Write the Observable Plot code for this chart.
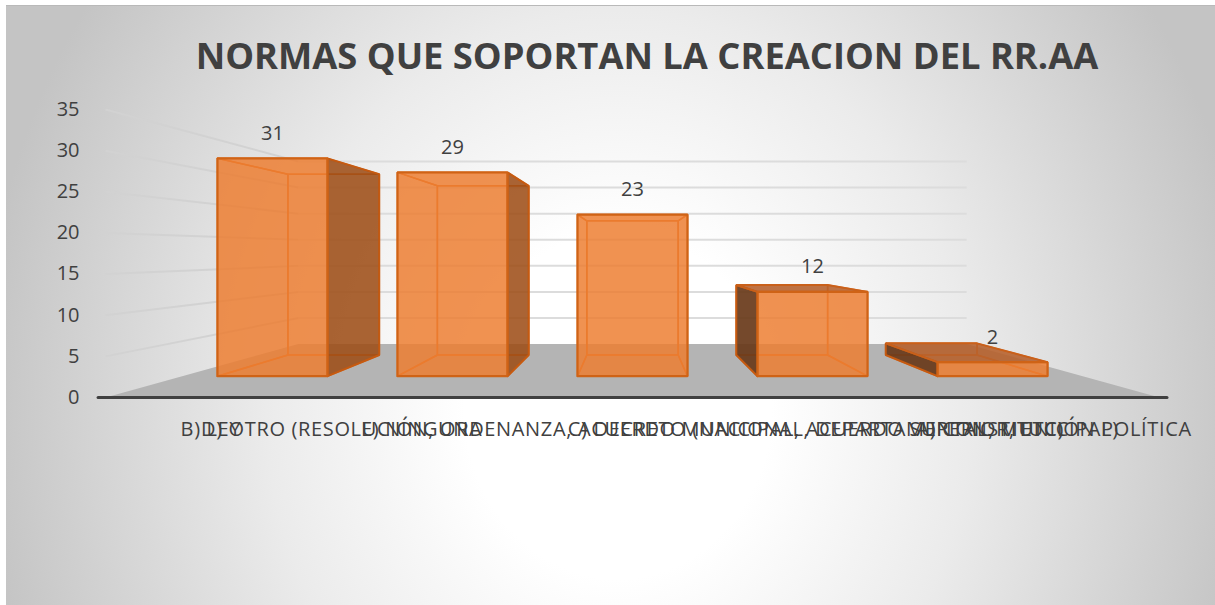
<!DOCTYPE html>
<html lang="es">
<head>
<meta charset="utf-8">
<script src="https://cdn.jsdelivr.net/npm/d3@7"></script>
<script src="https://cdn.jsdelivr.net/npm/@observablehq/plot@0.6"></script>
<style>
  html, body { margin: 0; padding: 0; background: #fff; }
  #page { position: relative; width: 1215px; height: 605px; overflow: hidden; background: #fff; }
  #bg { position: absolute; left: 6px; top: 5px; right: 0; bottom: 0;
        background: radial-gradient(ellipse 640px 720px at 612px 400px, #fff 0%, #fff 24%, #ebebeb 55%, #c4c4c4 100%);
        border-top: 1px solid #b9b9b9; }
  #title { position: absolute; left: 0; width: 1294px; top: 30px; margin: 0; text-align: center;
           font: 700 36.3px "Open Sans", sans-serif; color: #404040; line-height: 50px; }
  #chart { position: absolute; left: 0; top: 0; }
  #chart svg { display: block; }
  g[aria-label="x-axis tick label"] { letter-spacing: 0.65px; }
</style>
</head>
<body>
<div id="page">
  <div id="bg"></div>
  <div id="chart"></div>
  <h1 id="title">NORMAS QUE SOPORTAN LA CREACION DEL RR.AA</h1>
</div>
<script>
// Data
const categories = [
  "B) LEY",
  "E) NINGUNA",
  "D) OTRO (RESOLUCIÓN, ORDENANZA, ACUERDO MUNICIPAL, ACUERDO SUPERIOR, ETC)",
  "C) DECRETO (NACIONAL, DEPARTAMENTAL, MUNICIPAL)",
  "A) CONSTITUCIÓN POLÍTICA"
];
const values = [31, 29, 23, 12, 2];
const valueTicks = [0, 5, 10, 15, 20, 25, 30, 35];
const categoryTicks = categories.map((_, i) => i - 2);

// Perspective of the 3D box (depth planes, in scale units)
const V0 = 17.74, S_FRONT = 0.854, S_BACK = 0.709, S_WALL = 0.634, HALF = 0.3056, EDGE = 2.5;
const P = (u, v, s) => ({x: u * s, y: V0 + (v - V0) * s});

const faces = {inner: [], darkRight: [], darkLeft: [], darkTop: [], front: []};
values.forEach((v, i) => {
  const u0 = categoryTicks[i] - HALF, u1 = categoryTicks[i] + HALF;
  const f = (u, w) => P(u, w, S_FRONT), b = (u, w) => P(u, w, S_BACK);
  const add = (kind, id, pts) => faces[kind].push(...[...pts, pts[0]].map(p => ({...p, id: i + id})));
  add("inner", "back", [b(u0, 0), b(u1, 0), b(u1, v), b(u0, v)]);
  add("inner", "bottom", [f(u0, 0), f(u1, 0), b(u1, 0), b(u0, 0)]);
  const left = [f(u0, 0), f(u0, v), b(u0, v), b(u0, 0)];
  const right = [f(u1, 0), f(u1, v), b(u1, v), b(u1, 0)];
  const top = [f(u0, v), f(u1, v), b(u1, v), b(u0, v)];
  if (u0 > 0) add("darkLeft", "left", left); else add("inner", "left", left);
  if (u1 < 0) add("darkRight", "right", right); else add("inner", "right", right);
  if (v < V0) add("darkTop", "top", top); else add("inner", "top", top);
  add("front", "front", [f(u0, 0), f(u1, 0), f(u1, v), f(u0, v)]);
});
const faceMark = (kind, style) => Plot.line(faces[kind], {x: "x", y: "y", z: "id", strokeLinejoin: "miter", ...style});

const floor = [P(-EDGE, 0, 1), P(-EDGE, 0, S_WALL), P(EDGE, 0, S_WALL), P(EDGE, 0, 1), P(-EDGE, 0, 1)];
const gridTicks = valueTicks.slice(1);

const chart = Plot.plot({
  width: 1215, height: 605,
  marginLeft: 105, marginRight: 56, marginTop: 109, marginBottom: 208,
  x: {domain: [-EDGE, EDGE]},
  y: {domain: [0, 35]},
  style: {background: "transparent", fontFamily: "'Open Sans', sans-serif", overflow: "visible"},
  marks: [
    // back wall and left wall gridlines
    Plot.link(gridTicks, {
      x1: () => -EDGE * S_WALL, x2: () => EDGE * S_WALL,
      y1: d => P(0, d, S_WALL).y, y2: d => P(0, d, S_WALL).y,
      stroke: "#dcdcdc", strokeWidth: 2
    }),
    Plot.link(gridTicks, {
      x1: () => -EDGE, x2: () => -EDGE * S_WALL,
      y1: d => d, y2: d => P(0, d, S_WALL).y,
      stroke: "#d2d2d2", strokeWidth: 2
    }),
    Plot.line(floor, {x: "x", y: "y", fill: "#b4b4b4", stroke: "none"}),
    Plot.ruleY([0], {x1: -EDGE - 0.033, x2: EDGE + 0.038, stroke: "#404040", strokeWidth: 3, strokeLinecap: "round"}),
    // bars
    faceMark("inner", {fill: "#ed7d31", fillOpacity: 0.6, stroke: "#e9782b", strokeWidth: 1.5}),
    faceMark("darkRight", {fill: "#843c0c", fillOpacity: 0.66, stroke: "#c55a11", strokeWidth: 2}),
    faceMark("darkLeft", {fill: "#552f16", fillOpacity: 0.8, stroke: "#c55a11", strokeWidth: 2}),
    faceMark("darkTop", {fill: "#a8582a", fillOpacity: 0.7, stroke: "#c9601a", strokeWidth: 2}),
    faceMark("front", {fill: "#ed7d31", fillOpacity: 0.6, stroke: "#cf6316", strokeWidth: 2.2}),
    // data labels
    Plot.text(values, {
      x: (_, i) => P(categoryTicks[i], 0, S_FRONT).x,
      y: (d) => P(0, d, S_FRONT).y,
      text: d => String(d),
      dy: -25, fontSize: 20, fill: "#404040"
    }),
    // axes
    Plot.axisY({ticks: valueTicks, tickSize: 0, tickPadding: 26, fontSize: 20, color: "#404040", label: null}),
    Plot.axisX({
      ticks: categoryTicks, tickSize: 0, tickPadding: 24, fontSize: 20, color: "#404040", label: null,
      tickFormat: d => categories[d + 2]
    })
  ]
});
document.getElementById("chart").appendChild(chart);
</script>
</body>
</html>
